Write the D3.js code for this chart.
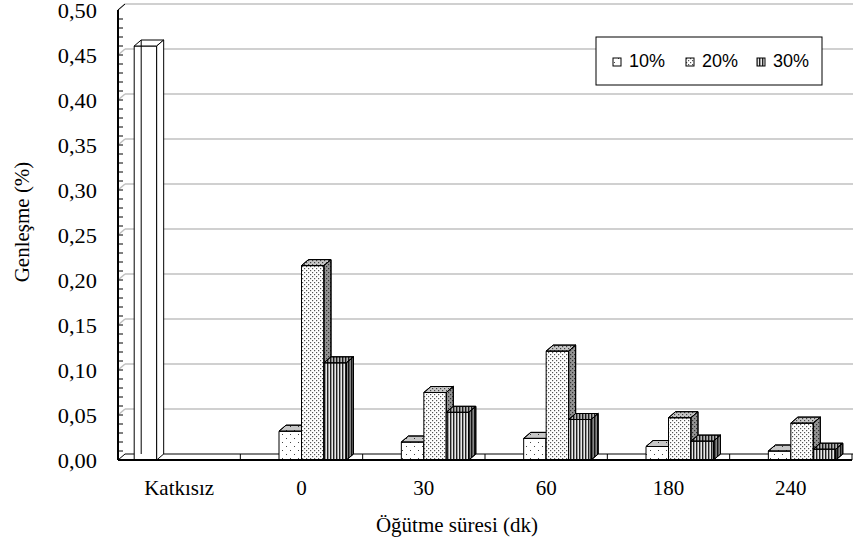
<!DOCTYPE html>
<html lang="tr">
<head>
    <meta charset="UTF-8">
    <title>Genleşme</title>
    <script src="https://d3js.org/d3.v7.min.js"></script>
    <style>
        body { margin: 0; background: #fff; }
        svg { font-family: "Liberation Serif", "Times New Roman", serif; }
    </style>
</head>
<body>
<script>
    // Chart data
    const categories = ["Katkısız", "0", "30", "60", "180", "240"];
    const seriesNames = ["Katkısız", "10%", "20%", "30%"];
    const katkisiz = [0.46, null, null, null, null, null];
    const s10 = [null, 0.032, 0.020, 0.024, 0.015, 0.010];
    const s20 = [null, 0.216, 0.075, 0.121, 0.047, 0.041];
    const s30 = [null, 0.108, 0.053, 0.045, 0.021, 0.012];
    const yTicks = [0, 0.05, 0.10, 0.15, 0.20, 0.25, 0.30, 0.35, 0.40, 0.45, 0.50];
    const legendItems = ["10%", "20%", "30%"];

    const seriesValues = [katkisiz, s10, s20, s30];

    const W = 853, H = 547;
    const plotLeft = 118, plotRight = 852, plotBase = 460, plotTop = 10;
    const dx = 7, dy = -6; // 3D depth offset

    const svg = d3.select("body").append("svg")
        .attr("width", W).attr("height", H);

    // Fill patterns
    const defs = svg.append("defs");
    const p10 = defs.append("pattern").attr("id", "p10")
        .attr("patternUnits", "userSpaceOnUse").attr("width", 8).attr("height", 8);
    p10.append("rect").attr("width", 8).attr("height", 8).attr("fill", "#fff");
    p10.append("rect").attr("x", 2).attr("y", 2).attr("width", 1).attr("height", 1).attr("fill", "#444");
    p10.append("rect").attr("x", 6).attr("y", 6).attr("width", 1).attr("height", 1).attr("fill", "#444");

    const p20 = defs.append("pattern").attr("id", "p20")
        .attr("patternUnits", "userSpaceOnUse").attr("width", 4).attr("height", 4);
    p20.append("rect").attr("width", 4).attr("height", 4).attr("fill", "#fff");
    p20.append("rect").attr("x", 0).attr("y", 0).attr("width", 1.2).attr("height", 1.2).attr("fill", "#555");
    p20.append("rect").attr("x", 2).attr("y", 2).attr("width", 1.2).attr("height", 1.2).attr("fill", "#555");

    const p30 = defs.append("pattern").attr("id", "p30")
        .attr("patternUnits", "userSpaceOnUse").attr("width", 3).attr("height", 3);
    p30.append("rect").attr("width", 3).attr("height", 3).attr("fill", "#e8e8e8");
    p30.append("rect").attr("x", 0).attr("width", 1.4).attr("height", 3).attr("fill", "#222");

    const fills = ["#fff", "url(#p10)", "url(#p20)", "url(#p30)"];

    // Scales
    const x = d3.scaleBand().domain(categories).range([plotLeft, plotRight]);
    const xs = d3.scaleBand().domain(seriesNames).range([0, x.bandwidth()]).paddingOuter(0.72);
    const y = d3.scaleLinear().domain([0, 0.5]).range([plotBase, plotTop]);

    // Back wall gridlines
    const grid = svg.append("g").attr("stroke", "#c0c0c0").attr("stroke-width", 1.6).attr("fill", "none");
    yTicks.filter(v => v > 0).forEach(v => {
        grid.append("line")
            .attr("x1", plotLeft + dx).attr("x2", plotRight + dx)
            .attr("y1", y(v) + dy).attr("y2", y(v) + dy);
        grid.append("line")
            .attr("x1", plotLeft).attr("x2", plotLeft + dx)
            .attr("y1", y(v)).attr("y2", y(v) + dy);
    });

    // Floor
    const floor = svg.append("g").attr("stroke", "#000").attr("fill", "none");
    floor.append("line").attr("x1", plotLeft + dx).attr("x2", plotRight + dx)
        .attr("y1", plotBase + dy).attr("y2", plotBase + dy).attr("stroke-width", 1.2);
    floor.append("line").attr("x1", plotLeft).attr("x2", plotLeft + dx)
        .attr("y1", plotBase).attr("y2", plotBase + dy).attr("stroke-width", 1);
    categories.slice(1).concat([null]).forEach(c => {
        const xx = c === null ? plotRight : x(c);
        floor.append("line").attr("x1", xx).attr("x2", xx)
            .attr("y1", plotBase + dy).attr("y2", plotBase).attr("stroke-width", 1);
    });

    // Bars (3D: front, top, side)
    const bars = svg.append("g").attr("stroke", "#000").attr("stroke-width", 1).attr("stroke-linejoin", "round");
    categories.forEach((c, ci) => {
        seriesNames.forEach((s, si) => {
            const v = seriesValues[si][ci];
            if (v == null) return;
            const bx = x(c) + xs(s), bw = xs.bandwidth();
            const yt = y(v);
            const g = bars.append("g");
            const topPts = [[bx, yt], [bx + dx, yt + dy], [bx + bw + dx, yt + dy], [bx + bw, yt]];
            const sidePts = [[bx + bw, yt], [bx + bw + dx, yt + dy], [bx + bw + dx, plotBase + dy], [bx + bw, plotBase]];
            g.append("rect").attr("x", bx).attr("y", yt)
                .attr("width", bw).attr("height", plotBase - yt)
                .attr("fill", fills[si]);
            [[topPts, 0.22], [sidePts, 0.42]].forEach(([pts, shade]) => {
                g.append("polygon").attr("points", pts.join(" ")).attr("fill", fills[si]);
                if (si > 0) {
                    g.append("polygon").attr("points", pts.join(" "))
                        .attr("fill", "#000").attr("fill-opacity", shade);
                }
            });
            // the plain bar shows its hidden back edge
            if (si === 0) {
                g.append("line").attr("x1", bx + dx).attr("x2", bx + dx)
                    .attr("y1", yt + dy).attr("y2", plotBase + dy);
            }
        });
    });

    // Front baseline and Y axis
    svg.append("line").attr("x1", plotLeft).attr("x2", plotRight)
        .attr("y1", plotBase).attr("y2", plotBase)
        .attr("stroke", "#000").attr("stroke-width", 2);
    svg.append("line").attr("x1", plotLeft).attr("x2", plotLeft)
        .attr("y1", y(0.5)).attr("y2", plotBase)
        .attr("stroke", "#000").attr("stroke-width", 2);
    svg.append("line").attr("x1", plotLeft).attr("x2", plotLeft + dx)
        .attr("y1", y(0.5)).attr("y2", y(0.5) + dy)
        .attr("stroke", "#000").attr("stroke-width", 1);
    const minor = d3.range(1, 50).map(i => i / 100);
    svg.append("g").selectAll("line").data(minor).join("line")
        .attr("x1", plotLeft).attr("x2", plotLeft + 5)
        .attr("y1", d => y(d)).attr("y2", d => y(d))
        .attr("stroke", "#000").attr("stroke-width", 1);

    // Y tick labels (slightly wide, as in the source)
    const fmt = d3.format(".2f");
    svg.append("g").selectAll("text").data(yTicks).join("text")
        .attr("x", 97).attr("y", d => y(d) + 7.5)
        .attr("text-anchor", "end").attr("font-size", 20).attr("fill", "#000")
        .text(d => fmt(d).replace(".", ","))
        .each(function () {
            const w = this.getComputedTextLength();
            d3.select(this).attr("textLength", w * 1.12).attr("lengthAdjust", "spacingAndGlyphs");
        });

    // X tick labels
    svg.append("g").selectAll("text").data(categories).join("text")
        .attr("x", d => x(d) + x.bandwidth() / 2).attr("y", 495)
        .attr("text-anchor", "middle").attr("font-size", 21).attr("fill", "#000")
        .text(d => d);

    // Axis titles
    svg.append("text").attr("x", 457).attr("y", 532)
        .attr("text-anchor", "middle").attr("font-size", 21)
        .text("Öğütme süresi (dk)");
    svg.append("text").attr("transform", "translate(29,222) rotate(-90)")
        .attr("text-anchor", "middle").attr("font-size", 21)
        .text("Genleşme (%)");

    // Legend
    const legend = svg.append("g");
    legend.append("rect").attr("x", 596).attr("y", 37).attr("width", 226).attr("height", 48)
        .attr("fill", "#fff").attr("stroke", "#000").attr("stroke-width", 1);
    const lx = [613, 686, 757];
    legendItems.forEach((name, i) => {
        legend.append("rect").attr("x", lx[i]).attr("y", 58).attr("width", 8).attr("height", 8)
            .attr("fill", fills[i + 1]).attr("stroke", "#000").attr("stroke-width", 1);
        legend.append("text").attr("x", lx[i] + 16).attr("y", 67)
            .attr("font-family", "'Liberation Sans', Arial, sans-serif").attr("font-size", 18)
            .text(name);
    });
</script>
</body>
</html>
